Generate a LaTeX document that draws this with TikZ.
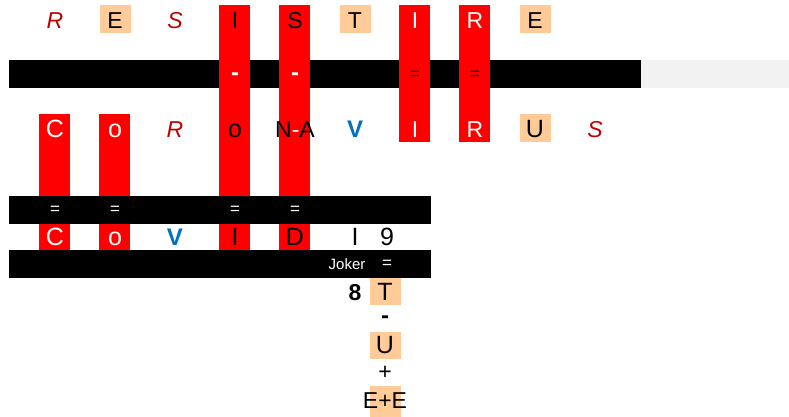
\documentclass[tikz,border=0pt]{standalone}
\usepackage{fontspec}
\setmainfont{Liberation Sans}
\definecolor{peach}{HTML}{FFCC99}
\definecolor{wordred}{HTML}{C00000}
\definecolor{wordblue}{HTML}{0070C0}
\definecolor{cellred}{HTML}{FF0000}
\definecolor{paper}{HTML}{F2F2F2}
\tikzset{
  letter/.style={inner sep=0pt, anchor=base, font=\fontsize{23}{26}\selectfont},
  bigletter/.style={letter, font=\fontsize{25}{28}\selectfont},
  onred/.style={letter, text=white},
  slanted/.style={letter, text=wordred, font=\fontsize{23}{26}\selectfont\itshape},
  bluebold/.style={letter, text=wordblue, font=\fontsize{24}{27}\selectfont\bfseries},
  sign/.style={inner sep=0pt, font=\fontsize{17}{20}\selectfont},
  dash sign/.style={inner sep=0pt, font=\fontsize{24}{27}\selectfont\bfseries},
}

\begin{document}
\begin{tikzpicture}[x=1pt,y=-1pt]
  \useasboundingbox (0,0) rectangle (789,417);
  % Top bar
  \fill[black] (9,60) rectangle (641,88);
  \fill[paper] (641,60) rectangle (789,88);
  % Red columns
  \foreach \x/\top/\bot in {235/5/250, 295/5/250, 415/5/142, 475/5/142, 55/114/250, 115/114/250}
    \fill[cellred] (\x-16,\top) rectangle (\x+15,\bot);
  % Peach cells
  \foreach \x/\y/\h in {115/5/28, 355/5/28, 535/5/28, 535/114/28, 385/278/27, 385/332/27, 385/386/31}
    \fill[peach] (\x-15,\y) rectangle (\x+16,\y+\h);
  % Lower bars
  \fill[black] (9,196) rectangle (431,224);
  \fill[black] (9,250) rectangle (431,278);
  % Top word
  \node[slanted] (t1) at (55,29) {R}; \node[letter] (t2) at (115,29) {E};
  \node[slanted] (t3) at (175,29) {S}; \node[letter] (t4) at (235,29) {I};
  \node[letter] (t5) at (295,29) {S}; \node[letter] (t6) at (355,29) {T};
  \node[onred] (t7) at (415,29) {I}; \node[onred] (t8) at (475,29) {R};
  \node[letter] (t9) at (535,29) {E};
  % Signs in top bar
  \node[dash sign, text=white] (s1) at (235,77) {-}; \node[dash sign, text=white] (s2) at (295,77) {-};
  \node[sign] (s3) at (415,75) {=}; \node[sign] (s4) at (475,75) {=};
  % Middle word
  \node[bigletter, text=white] (m1) at (55,138) {C}; \node[bigletter, text=white] (m2) at (115,138) {o};
  \node[slanted] (m3) at (175,138) {R}; \node[bigletter] (m4) at (235,138) {o};
  \node[letter] (m5) at (295,138) {N\textcolor{white}{-}A}; \node[bluebold] (m6) at (355,138) {V};
  \node[onred] (m7) at (415,138) {I}; \node[onred] (m8) at (475,138) {R};
  \node[bigletter] (m9) at (535,138) {U}; \node[slanted] (m10) at (595,138) {S};
  % Signs in middle bar
  \foreach \x in {55,115,235,295}
    \node[sign, text=white] (e\x) at (\x,210) {=};
  % Bottom word
  \node[bigletter, text=white] (b1) at (55,245) {C}; \node[bigletter, text=white] (b2) at (115,245) {o};
  \node[bluebold] (b3) at (175,245) {V}; \node[bigletter] (b4) at (235,245) {I};
  \node[bigletter] (b5) at (295,245) {D}; \node[bigletter] (b6) at (355,245) {I};
  \node[bigletter] (b7) at (387,245) {9};
  % Joker line
  \node[inner sep=0pt, text=white, font=\fontsize{15}{18}\selectfont] (joker) at (347,264) {Joker};
  \node[sign, text=white] (jeq) at (387,264) {=};
  % Column below
  \node[letter, font=\fontsize{23}{26}\selectfont\bfseries] (eight) at (355,300) {8};
  \node[bigletter] (c1) at (385,300) {T};
  \node[dash sign] (c2) at (385,320) {-};
  \node[bigletter] (c3) at (385,353) {U};
  \node[letter, anchor=center] (c4) at (385,373) {+};
  \node[letter] (c5) at (385,408) {E+E};
\end{tikzpicture}
\end{document}
